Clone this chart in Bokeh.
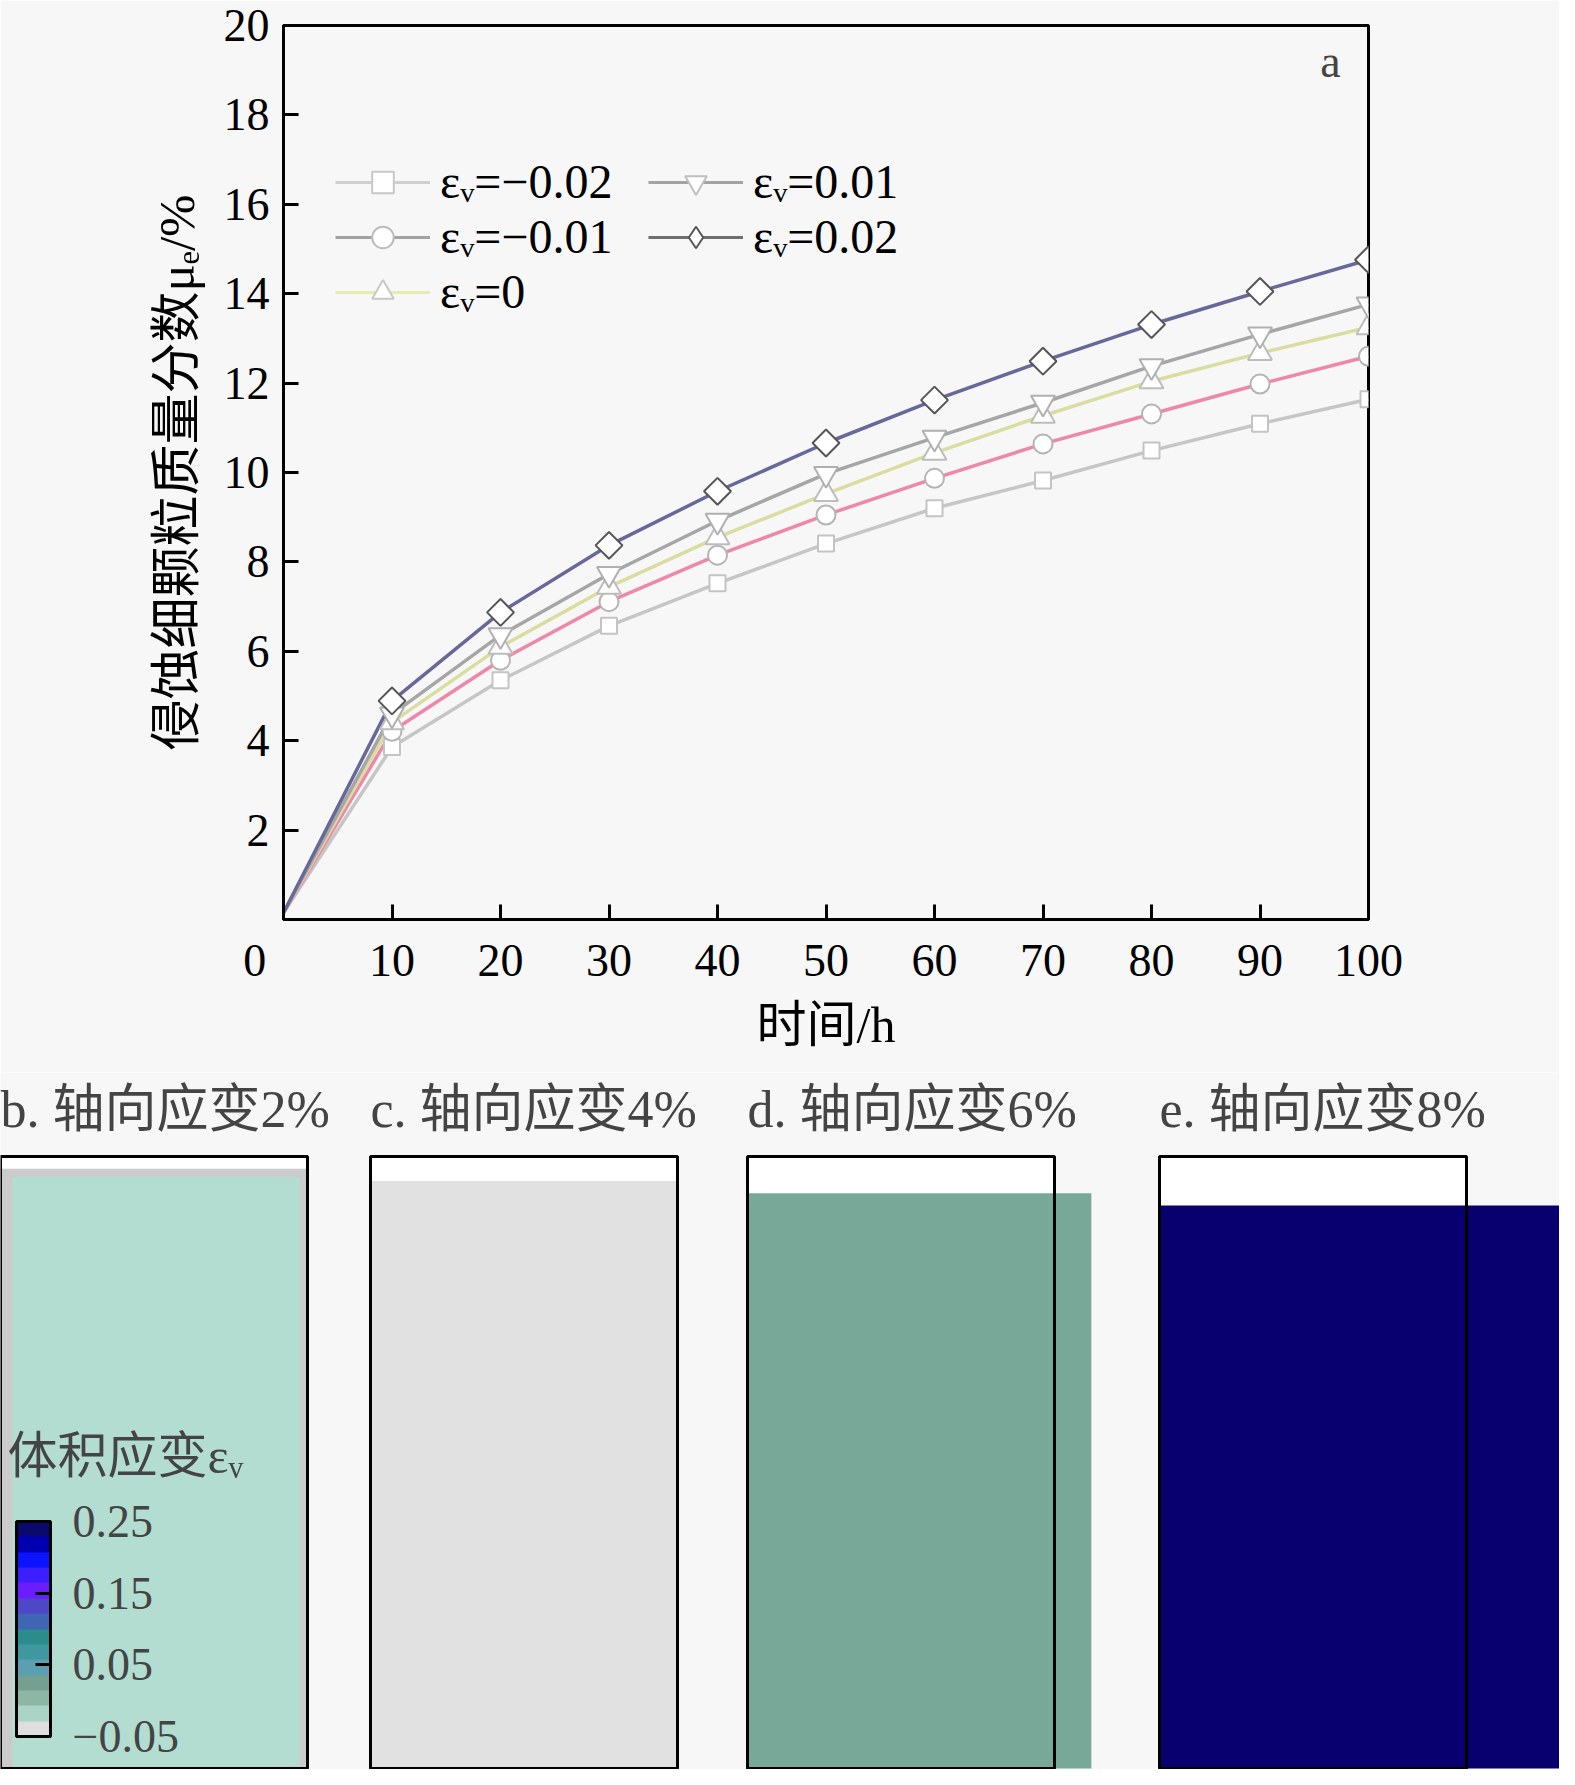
import math
from bokeh.plotting import figure
from bokeh.models import (Range1d, FixedTicker, Legend, LegendItem, Label,
                          ColorBar, LinearColorMapper)
from bokeh.layouts import column
from bokeh.embed import file_html
from bokeh.resources import INLINE

# ---------------- data ----------------
time_h = [0, 10, 20, 30, 40, 50, 60, 70, 80, 90, 100]
mu_m002 = [0.15, 3.86, 5.35, 6.57, 7.52, 8.41, 9.20, 9.82, 10.49, 11.09, 11.64]
mu_m001 = [0.15, 4.21, 5.80, 7.11, 8.15, 9.05, 9.87, 10.64, 11.31, 11.98, 12.60]
mu_0 = [0.15, 4.41, 6.10, 7.44, 8.55, 9.52, 10.44, 11.27, 12.04, 12.67, 13.25]
mu_p001 = [0.15, 4.59, 6.36, 7.73, 8.92, 9.97, 10.78, 11.56, 12.38, 13.09, 13.76]
mu_p002 = [0.15, 4.89, 6.87, 8.37, 9.58, 10.66, 11.62, 12.49, 13.31, 14.05, 14.76]
series = [mu_m002, mu_m001, mu_0, mu_p001, mu_p002]
series_labels = ["εᵥ=−0.02", "εᵥ=−0.01", "εᵥ=0", "εᵥ=0.01", "εᵥ=0.02"]
x_ticks = [0, 10, 20, 30, 40, 50, 60, 70, 80, 90, 100]
y_ticks = [2, 4, 6, 8, 10, 12, 14, 16, 18, 20]

panel_letters = ["b", "c", "d", "e"]
axial_strain_pct = [2, 4, 6, 8]
lateral_ratio = [1.0, 1.0, 1.12, 1.36]
cbar_ticks = [-0.05, 0.05, 0.15, 0.25]
cbar_tick_labels = ["−0.05", "0.05", "0.15", "0.25"]

# ---------------- styles ----------------
BG = "#f7f7f7"
SERIF = "'Liberation Serif', 'Noto Sans CJK SC'"
line_colors = ["#c6c6c6", "#ee88a9", "#dadd9f", "#a6a6a6", "#68689a"]
markers = ["square", "circle", "triangle", "inverted_triangle", "square"]
marker_sizes = [16, 19, 24, 24, 19]
marker_angles = [0, 0, 0, 0, math.pi / 4]
marker_line = ["#c4c4c4", "#b4b4b4", "#bdbdbd", "#b0b0b0", "#555555"]
leg_markers = ["square", "circle", "triangle", "inverted_triangle", "diamond"]
leg_line_colors = ["#cfcfcf", "#a3a3a3", "#e6ecb0", "#a3a3a3", "#6e6e6e"]
leg_marker_sizes = [15, 19, 17, 14, 31]
leg_marker_line = ["#c8c8c8", "#bcbcbc", "#c8c8c8", "#c0c0c0", "#555555"]
panel_fill = ["#b2ddd0", "#e1e1e1", "#78a898", "#08006e"]
cbar_palette = ["#dedede", "#aad4c6", "#8eb6a4", "#74a092", "#5c9fb2", "#3f98a0",
                "#2b8c8c", "#3f66b4", "#5046c8", "#6a1eff", "#3c1eff", "#0a14ff",
                "#0000b0", "#0a0a6e"]

# ---------------- top chart ----------------
p = figure(width=1559, height=1072, x_range=Range1d(0, 100), y_range=Range1d(0, 20),
           output_backend="svg", toolbar_location=None,
           min_border_left=283, min_border_right=191, min_border_top=25,
           min_border_bottom=153, background_fill_color=BG, border_fill_color=BG)
try:
    p.frame_align = False
except Exception:
    pass
p.grid.visible = False
p.outline_line_color = "black"
p.outline_line_width = 3
for ax in (p.xaxis[0], p.yaxis[0]):
    ax.axis_line_width = 3
    ax.major_tick_line_width = 3
    ax.major_tick_in = 15
    ax.major_tick_out = 0
    ax.minor_tick_line_color = None
    ax.major_label_text_font = SERIF
    ax.major_label_text_font_size = "46px"
    ax.major_label_text_color = "black"
    ax.axis_label_text_font = SERIF
    ax.axis_label_text_font_size = "50px"
    ax.axis_label_text_font_style = "normal"
    ax.axis_label_text_color = "black"
p.xaxis.ticker = FixedTicker(ticks=x_ticks)
# the origin label sits left of the corner in the reference
p.xaxis.major_label_overrides = {0: "0" + "\u00a0" * 5}
p.yaxis.ticker = FixedTicker(ticks=y_ticks)
p.xaxis.major_label_standoff = 15
p.yaxis.major_label_standoff = 14
p.xaxis.axis_label = "时间/h"
p.yaxis.axis_label = "侵蚀细颗粒质量分数μₑ/%"
p.yaxis.axis_label_text_font_size = "51px"
p.xaxis.axis_label_standoff = 8
p.yaxis.axis_label_standoff = 16

for i, ys in enumerate(series):
    p.line(time_h, ys, line_color=line_colors[i], line_width=3.5)
for i, ys in enumerate(series):
    p.scatter(time_h[1:], ys[1:], marker=markers[i], size=marker_sizes[i],
              angle=marker_angles[i], fill_color="white", line_color=marker_line[i],
              line_width=2)

NAN = float("nan")
items = []
for i, lab in enumerate(series_labels):
    lr = p.line(x=[NAN], y=[NAN], line_color=leg_line_colors[i], line_width=3)
    sr = p.scatter(x=[NAN], y=[NAN], marker=leg_markers[i], size=leg_marker_sizes[i],
                   fill_color="white", line_color=leg_marker_line[i], line_width=2)
    items.append(LegendItem(label=lab, renderers=[lr, sr]))
legend = Legend(items=items, location=(52, 600), orientation="vertical", nrows=3,
                glyph_width=95, glyph_height=54, label_standoff=10, label_width=208,
                spacing=0, padding=0, margin=0, border_line_color=None,
                background_fill_alpha=0, label_text_font=SERIF,
                label_text_font_size="48px", label_text_color="black")
p.add_layout(legend)

p.add_layout(Label(x=96.5, y=19.2, text="a", text_align="center", text_baseline="middle",
                   text_font=SERIF, text_font_size="46px"))

# ---------------- bottom panels ----------------
q = figure(width=1559, height=697, x_range=Range1d(8, 1567), y_range=Range1d(1777, 1080),
           output_backend="svg", toolbar_location=None, min_border=0,
           x_axis_location=None, y_axis_location=None,
           background_fill_color=BG, border_fill_color=BG)
try:
    q.frame_align = False
except Exception:
    pass
q.grid.visible = False
q.outline_line_color = None

frame_left = [8, 378, 755, 1167]
W, TOP, H = 307, 1164, 612
lefts = frame_left
rights = [l + W for l in lefts]
q.quad(left=lefts, right=rights, top=[TOP] * 4, bottom=[TOP + H] * 4,
       fill_color="white", line_color=None)
s_top = [TOP + H * s / 100.0 for s in axial_strain_pct]
s_right = [l + W * r for l, r in zip(lefts, lateral_ratio)]
q.quad(left=lefts, right=s_right, top=s_top, bottom=[TOP + H] * 4,
       fill_color=["#cbcbcb"] + panel_fill[1:], line_color=None)
# inner part of panel b (grey rim around the sample)
q.quad(left=[lefts[0] + 12], right=[s_right[0] - 8], top=[s_top[0] + 8],
       bottom=[TOP + H - 2], fill_color=panel_fill[0], line_color=None)
q.quad(left=lefts, right=rights, top=[TOP] * 4, bottom=[TOP + H] * 4,
       fill_color=None, line_color="black", line_width=3)

for i, letter in enumerate(panel_letters):
    q.add_layout(Label(x=frame_left[i], y=1117,
                       text=f"{letter}. 轴向应变{axial_strain_pct[i]}%",
                       text_baseline="middle", text_align="left",
                       text_font=SERIF, text_font_size="52px"))

q.add_layout(Label(x=15, y=1463, text="体积应变εᵥ", text_baseline="middle",
                   text_align="left", text_font=SERIF, text_font_size="50px"))

mapper = LinearColorMapper(palette=cbar_palette, low=-0.05, high=0.25)
cb = ColorBar(color_mapper=mapper, ticker=FixedTicker(ticks=cbar_ticks),
              major_label_overrides=dict(zip(cbar_ticks, cbar_tick_labels)),
              width=34, height=215, location=(16, 33),
              label_standoff=22, major_label_text_font=SERIF,
              major_label_text_font_size="46px",
              major_tick_in=15, major_tick_out=0, major_tick_line_color="black",
              major_tick_line_width=3, minor_tick_line_color=None,
              bar_line_color="black", bar_line_width=3,
              background_fill_alpha=0, border_line_color=None, padding=0, margin=0)
q.add_layout(cb)

layout = column(p, q)
open("out.html", "w").write(file_html(layout, INLINE))
